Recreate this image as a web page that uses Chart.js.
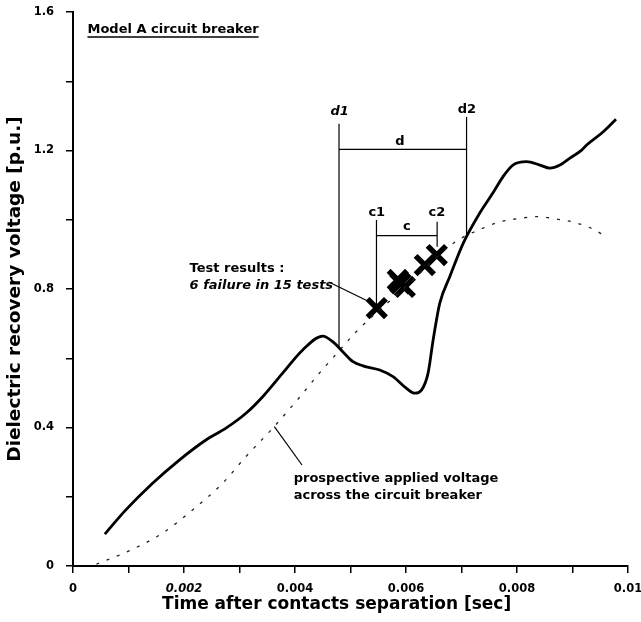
<!DOCTYPE html>
<html>
<head>
<meta charset="utf-8">
<script src="https://cdn.jsdelivr.net/npm/chart.js@4/dist/chart.umd.min.js"></script>
<style>
  html, body { margin: 0; padding: 0; background: #fff; }
  #wrap { width: 641px; height: 622px; }
</style>
</head>
<body>
<div id="wrap"><canvas id="c" width="641" height="622"></canvas></div>
<script>
// Dielectric recovery voltage of the breaker gap [p.u.] vs time after contact separation [s]
const recoveryT = [0.000573, 0.000952, 0.001434, 0.001915, 0.002395, 0.002756, 0.003116, 0.003418,
  0.003778, 0.004139, 0.004500, 0.004700, 0.004870, 0.005046, 0.005226, 0.005527, 0.005767,
  0.006009, 0.006159, 0.006279, 0.006398, 0.006489, 0.006609, 0.006790, 0.007030, 0.007331,
  0.007565, 0.007746, 0.007926, 0.008173, 0.008413, 0.008593, 0.008774, 0.008954, 0.009165,
  0.009255, 0.009555, 0.009784];
const recoveryV = [0.092, 0.162, 0.239, 0.306, 0.364, 0.398, 0.441, 0.489,
  0.557, 0.624, 0.664, 0.645, 0.617, 0.590, 0.578, 0.566, 0.547,
  0.513, 0.499, 0.508, 0.557, 0.653, 0.759, 0.836, 0.932, 1.020,
  1.077, 1.124, 1.158, 1.168, 1.158, 1.149, 1.158, 1.178, 1.201,
  1.216, 1.254, 1.290];

// Prospective voltage applied across the breaker [p.u.]
const prospectiveT = [0.000420, 0.001042, 0.001614, 0.002155, 0.002696, 0.003116, 0.003598,
  0.004018, 0.004440, 0.004860, 0.005075, 0.006000, 0.006860, 0.007421, 0.007690, 0.008050,
  0.008377, 0.008714, 0.009044, 0.009369, 0.009585];
const prospectiveV = [0.005, 0.046, 0.095, 0.162, 0.239, 0.316, 0.398,
  0.475, 0.557, 0.633, 0.672, 0.807, 0.933, 0.978, 0.994, 1.004,
  1.009, 1.002, 0.992, 0.973, 0.953];

// Breakdowns observed in the test series (6 failures in 15 tests)
const failureT = [0.005473, 0.005852, 0.005900, 0.005979, 0.006339, 0.006555];
const failureV = [0.745, 0.826, 0.816, 0.806, 0.869, 0.898];

// Window limits: d1..d2 and c1..c2
const windowT = { d1: 0.004793, d2: 0.007091, c1: 0.005468, c2: 0.006561 };

// Axis tick labels
const xTickLabels = ['0', '0.002', '0.004', '0.006', '0.008', '0.01'];
const yTickLabels = ['0', '0.4', '0.8', '1.2', '1.6'];

const FONT = "'DejaVu Sans', 'Liberation Sans', sans-serif";
Chart.defaults.font.family = FONT;
Chart.defaults.color = '#000';

const pts = (xs, ys) => xs.map((x, i) => ({ x, y: ys[i] }));
const seg = (x1, y1, x2, y2) => ({
  data: [{ x: x1, y: y1 }, { x: x2, y: y2 }],
  showLine: true, borderColor: '#000', borderWidth: 1.2, pointRadius: 0, fill: false
});

// Text annotations, anchored in data coordinates
const notes = [
  { text: 'Model A circuit breaker', x: 0.000261, y: 1.548, align: 'left', underline: true },
  { text: 'd1', x: 0.004806, y: 1.311, align: 'center', italic: true },
  { text: 'd2', x: 0.007097, y: 1.317, align: 'center' },
  { text: 'd', x: 0.005889, y: 1.227, align: 'center' },
  { text: 'c1', x: 0.005473, y: 1.022, align: 'center' },
  { text: 'c2', x: 0.006555, y: 1.022, align: 'center' },
  { text: 'c', x: 0.006014, y: 0.979, align: 'center' },
  { text: 'Test results :', x: 0.002101, y: 0.860, align: 'left' },
  { text: '6 failure in 15 tests', x: 0.002101, y: 0.8095, align: 'left', italic: true },
  { text: 'prospective applied voltage', x: 0.003977, y: 0.2513, align: 'left' },
  { text: 'across the circuit breaker', x: 0.003977, y: 0.203, align: 'left' }
];

const X_TITLE = 'Time after contacts separation [sec]';

const notesPlugin = {
  id: 'notes',
  afterDatasetsDraw(chart) {
    const { ctx, chartArea, scales: { x, y } } = chart;
    ctx.save();
    ctx.fillStyle = '#000';
    ctx.strokeStyle = '#000';
    ctx.textBaseline = 'middle';
    notes.forEach(n => {
      ctx.font = (n.italic ? 'italic ' : '') + 'bold 13px ' + FONT;
      ctx.textAlign = n.align;
      const px = x.getPixelForValue(n.x);
      const py = y.getPixelForValue(n.y);
      ctx.fillText(n.text, px, py);
      if (n.underline) {
        const w = ctx.measureText(n.text).width;
        ctx.lineWidth = 1.3;
        ctx.beginPath();
        ctx.moveTo(px, py + 7);
        ctx.lineTo(px + w, py + 7);
        ctx.stroke();
      }
    });
    // x axis title, set slightly left of the plot centre
    ctx.font = 'bold 17px ' + FONT;
    ctx.textAlign = 'center';
    ctx.fillText(X_TITLE, chartArea.left + (chartArea.right - chartArea.left) * 0.475, chartArea.bottom + 39);
    ctx.restore();
  }
};

const datasets = [
  {
    label: 'Dielectric recovery voltage',
    data: pts(recoveryT, recoveryV),
    showLine: true, borderColor: '#000', borderWidth: 2.8, pointRadius: 0,
    cubicInterpolationMode: 'monotone', fill: false
  },
  {
    label: 'Prospective applied voltage',
    data: pts(prospectiveT, prospectiveV),
    showLine: true, borderColor: '#222', borderWidth: 1.3, borderDash: [3, 8], pointRadius: 0,
    cubicInterpolationMode: 'monotone', fill: false
  },
  // d1 / d2 limits and the d span
  seg(windowT.d1, 1.277, windowT.d1, 0.632),
  seg(windowT.d2, 1.297, windowT.d2, 0.956),
  seg(windowT.d1, 1.2035, windowT.d2, 1.2035),
  // c1 / c2 limits and the c span
  seg(windowT.c1, 0.999, windowT.c1, 0.745),
  seg(windowT.c2, 0.994, windowT.c2, 0.922),
  seg(windowT.c1, 0.954, windowT.c2, 0.954),
  // leader lines for the two notes
  seg(0.004608, 0.820, 0.005347, 0.7625),
  seg(0.003628, 0.4023, 0.004126, 0.2917),
  {
    label: 'Failures',
    data: pts(failureT, failureV),
    showLine: false, pointStyle: 'crossRot', pointRadius: 13, borderWidth: 5.5,
    borderColor: '#000', backgroundColor: '#000'
  }
];

new Chart(document.getElementById('c'), {
  type: 'scatter',
  data: { datasets },
  options: {
    responsive: false,
    animation: false,
    devicePixelRatio: 1,
    layout: { autoPadding: false, padding: { top: 12, right: 13, left: 0, bottom: 0 } },
    plugins: { legend: { display: false }, tooltip: { enabled: false } },
    scales: {
      x: {
        type: 'linear', min: 0, max: 0.01,
        afterFit: s => { s.height = 56; s.paddingLeft = 0; s.paddingRight = 0; },
        border: { display: true, color: '#000', width: 2 },
        grid: { drawOnChartArea: false, drawTicks: true, tickLength: 7, color: '#000', lineWidth: 1.5 },
        ticks: {
          stepSize: 0.001, autoSkip: false, maxRotation: 0, padding: 9, color: '#000',
          font: c => ({ family: FONT, size: 11.5, weight: 'bold',
            style: (c.tick && Math.round(c.tick.value / 0.001) === 2) ? 'italic' : 'normal' }),
          callback: v => {
            const k = Math.round(v / 0.001);
            return k % 2 === 0 ? xTickLabels[k / 2] : '';
          }
        },
        title: { display: false }
      },
      y: {
        type: 'linear', min: 0, max: 1.6,
        afterFit: s => { s.width = 73; s.paddingTop = 0; s.paddingBottom = 0; },
        border: { display: true, color: '#000', width: 2 },
        grid: { drawOnChartArea: false, drawTicks: true, tickLength: 7, color: '#000', lineWidth: 1.5 },
        ticks: {
          stepSize: 0.2, autoSkip: false, padding: 12, color: '#000',
          font: { family: FONT, size: 11.5, weight: 'bold' },
          callback: v => {
            const k = Math.round(v / 0.2);
            return k % 2 === 0 ? yTickLabels[k / 2] : '';
          }
        },
        title: {
          display: true, text: 'Dielectric recovery voltage [p.u.]', color: '#000',
          font: { family: FONT, size: 18.5, weight: 'bold' }, padding: { top: 4, bottom: 0 }
        }
      }
    }
  },
  plugins: [notesPlugin]
});
</script>
</body>
</html>
